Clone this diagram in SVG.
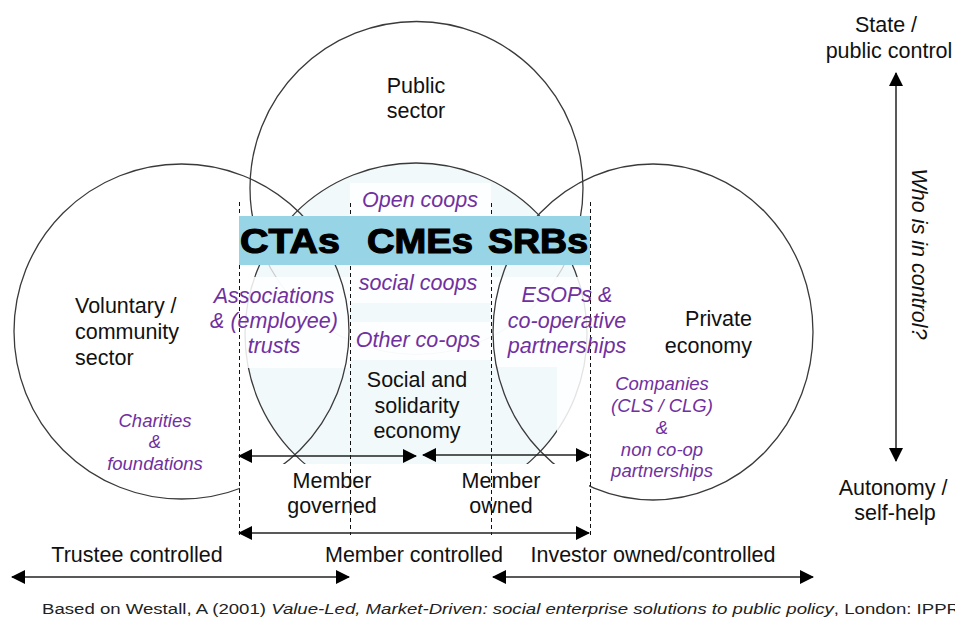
<svg xmlns="http://www.w3.org/2000/svg" width="955" height="619" viewBox="0 0 955 619">
<style>
  .circ{fill:none;stroke:#3a3a3a;stroke-width:1.3}
  .lbl{font-family:"Liberation Sans",Arial,sans-serif;font-size:21.5px;fill:#111}
  .mid{text-anchor:middle}
  .pur{font-family:"Liberation Sans",Arial,sans-serif;font-style:italic;font-size:21.5px;fill:#7030a0;text-anchor:middle}
  .pur-s{font-family:"Liberation Sans",Arial,sans-serif;font-style:italic;font-size:18.5px;fill:#7030a0;text-anchor:middle}
  .big{font-family:"Liberation Sans",Arial,sans-serif;font-weight:bold;font-size:35px;fill:#000;stroke:#000;stroke-width:1.2}
  .box{fill:#fff;fill-opacity:0.86}
  .dash{stroke:#111;stroke-width:1;stroke-dasharray:4 3;fill:none}
  .arr{stroke:#222;stroke-width:1.5;fill:none;marker-start:url(#ah);marker-end:url(#ah)}
</style>
<defs>
  <marker id="ah" viewBox="0 0 14 14" refX="13" refY="7" markerWidth="14" markerHeight="14" markerUnits="userSpaceOnUse" orient="auto-start-reverse">
    <path d="M0,0 L14,7 L0,14 z" fill="#000"/>
  </marker>
  <clipPath id="inCentral"><circle cx="416" cy="334" r="170"/></clipPath>
</defs>
<rect width="955" height="619" fill="#fff"/>

<g id="public-sector">
  <circle class="circ" cx="416.5" cy="188" r="166.5"/>
</g>
<g id="social-solidarity-economy">
  <circle cx="416" cy="334" r="171" fill="#f1f9fa" stroke="#3a3a3a" stroke-width="1.3"/>
  <circle cx="416.5" cy="188" r="166.5" fill="none" stroke="#cdcdcd" stroke-width="1.2" clip-path="url(#inCentral)"/>
</g>
<g id="text-boxes">
  <rect class="box" x="350" y="183" width="141" height="33"/>
  <rect class="box" x="350" y="265" width="141" height="38"/>
  <rect class="box" x="350" y="322" width="141" height="38"/>
  <rect class="box" x="239" y="277" width="111" height="91"/>
  <rect class="box" x="491" y="277" width="150" height="90"/>
  <rect class="box" x="557" y="367" width="90" height="98"/>
</g>
<g id="voluntary-sector">
  <circle class="circ" cx="181.5" cy="331.5" r="167.5"/>
</g>
<g id="private-economy">
  <ellipse class="circ" cx="653" cy="332" rx="160" ry="168"/>
</g>
<rect x="240" y="464" width="349" height="67" fill="#fff"/>

<g id="dashed-guides">
  <line class="dash" x1="239.5" y1="202" x2="239.5" y2="535"/>
  <line class="dash" x1="350.5" y1="203" x2="350.5" y2="535"/>
  <line class="dash" x1="491.5" y1="203" x2="491.5" y2="535"/>
  <line class="dash" x1="590.5" y1="202" x2="590.5" y2="535"/>
</g>

<g id="band">
  <rect x="239" y="216" width="351" height="49" fill="#96d4e6"/>
  <text class="big" x="240" y="253" textLength="100" lengthAdjust="spacingAndGlyphs">CTAs</text>
  <text class="big" x="367" y="253" textLength="106" lengthAdjust="spacingAndGlyphs">CMEs</text>
  <text class="big" x="488" y="253" textLength="100" lengthAdjust="spacingAndGlyphs">SRBs</text>
</g>

<g id="labels">
  <text class="lbl mid" x="416" y="93">Public</text>
  <text class="lbl mid" x="416" y="118">sector</text>

  <text class="lbl" x="75" y="313">Voluntary /</text>
  <text class="lbl" x="75" y="339">community</text>
  <text class="lbl" x="75" y="365">sector</text>

  <text class="pur-s" x="155" y="427">Charities</text>
  <text class="pur-s" x="155" y="448">&amp;</text>
  <text class="pur-s" x="155" y="470">foundations</text>

  <text class="pur" x="420" y="207">Open coops</text>
  <text class="pur" x="418" y="290">social coops</text>
  <text class="pur" x="418" y="347">Other co-ops</text>

  <text class="pur" x="274" y="303">Associations</text>
  <text class="pur" x="274" y="328">&amp; (employee)</text>
  <text class="pur" x="274" y="353">trusts</text>

  <text class="pur" x="567" y="302">ESOPs &amp;</text>
  <text class="pur" x="567" y="328">co-operative</text>
  <text class="pur" x="567" y="353">partnerships</text>

  <text class="lbl" x="752" y="326" text-anchor="end">Private</text>
  <text class="lbl" x="752" y="353" text-anchor="end">economy</text>

  <text class="pur-s" x="662" y="390">Companies</text>
  <text class="pur-s" x="662" y="412">(CLS / CLG)</text>
  <text class="pur-s" x="662" y="434">&amp;</text>
  <text class="pur-s" x="662" y="456">non co-op</text>
  <text class="pur-s" x="662" y="477">partnerships</text>

  <text class="lbl mid" x="417" y="387">Social and</text>
  <text class="lbl mid" x="417" y="413">solidarity</text>
  <text class="lbl mid" x="417" y="438">economy</text>

  <text class="lbl mid" x="332" y="488">Member</text>
  <text class="lbl mid" x="332" y="513">governed</text>
  <text class="lbl mid" x="501" y="488">Member</text>
  <text class="lbl mid" x="501" y="513">owned</text>

  <text class="lbl mid" x="137" y="562">Trustee controlled</text>
  <text class="lbl mid" x="414" y="562">Member controlled</text>
  <text class="lbl mid" x="653" y="562">Investor owned/controlled</text>

  <text class="lbl mid" x="886" y="32">State /</text>
  <text class="lbl mid" x="889" y="58">public control</text>
  <text class="lbl mid" x="893" y="495">Autonomy /</text>
  <text class="lbl mid" x="895" y="520">self-help</text>
  <text class="lbl mid" font-style="italic" transform="translate(912,254) rotate(90)">Who is in control?</text>
</g>

<g id="connectors">
  <path class="arr" d="M239,456 L416,456"/>
  <path class="arr" d="M423,455 L589,455"/>
  <path class="arr" d="M239,533 L589,533"/>
  <path class="arr" d="M12,577 L349,577"/>
  <path class="arr" d="M493,577 L813,577"/>
  <path class="arr" d="M896,73 L896,461"/>
</g>

<text x="42" y="614" font-family="'Liberation Sans',Arial,sans-serif" font-size="15.5" fill="#222" textLength="918" lengthAdjust="spacingAndGlyphs">Based on Westall, A (2001) <tspan font-style="italic">Value-Led, Market-Driven: social enterprise solutions to public policy</tspan>, London: IPPR</text>
</svg>
